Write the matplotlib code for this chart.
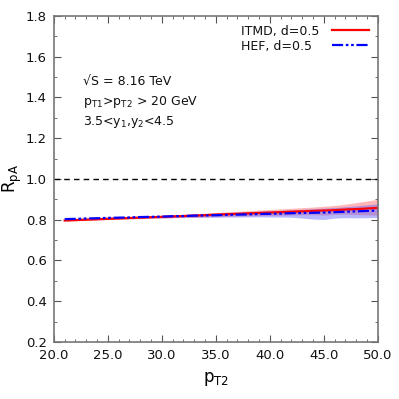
import numpy as np
import matplotlib
matplotlib.use("Agg")
import matplotlib.pyplot as plt
from matplotlib.ticker import MultipleLocator, FormatStrFormatter

# pT2 grid (GeV)
pt2 = [21, 22, 23, 24, 25, 26, 27, 28, 29, 30,
       31, 32, 33, 34, 35, 36, 37, 38, 39, 40,
       41, 42, 43, 44, 45, 46, 47, 48, 49, 50]

# ITMD, d=0.5
itmd = [0.796, 0.798, 0.800, 0.802, 0.804, 0.806, 0.808, 0.810, 0.812, 0.814,
        0.816, 0.818, 0.820, 0.822, 0.825, 0.827, 0.829, 0.831, 0.833, 0.835,
        0.837, 0.839, 0.841, 0.843, 0.845, 0.847, 0.850, 0.852, 0.855, 0.858]
itmd_lo = [0.793, 0.795, 0.797, 0.799, 0.801, 0.802, 0.804, 0.805, 0.807, 0.808,
           0.810, 0.811, 0.812, 0.814, 0.815, 0.816, 0.818, 0.819, 0.820, 0.821,
           0.822, 0.823, 0.824, 0.825, 0.822, 0.826, 0.827, 0.825, 0.824, 0.822]
itmd_hi = [0.800, 0.802, 0.804, 0.806, 0.808, 0.811, 0.813, 0.816, 0.818, 0.821,
           0.823, 0.826, 0.829, 0.832, 0.835, 0.838, 0.841, 0.844, 0.847, 0.850,
           0.853, 0.856, 0.859, 0.862, 0.866, 0.870, 0.876, 0.884, 0.892, 0.900]

# HEF, d=0.5
hef = [0.803, 0.804, 0.806, 0.807, 0.809, 0.810, 0.811, 0.813, 0.814, 0.815,
       0.817, 0.818, 0.820, 0.821, 0.822, 0.824, 0.825, 0.826, 0.828, 0.829,
       0.830, 0.832, 0.833, 0.834, 0.835, 0.837, 0.839, 0.841, 0.843, 0.845]
hef_lo = [0.800, 0.801, 0.803, 0.804, 0.805, 0.806, 0.807, 0.808, 0.809, 0.809,
          0.810, 0.811, 0.811, 0.812, 0.812, 0.813, 0.813, 0.814, 0.814, 0.813,
          0.813, 0.812, 0.808, 0.803, 0.801, 0.808, 0.810, 0.809, 0.810, 0.811]
hef_hi = [0.806, 0.807, 0.809, 0.811, 0.813, 0.814, 0.816, 0.818, 0.820, 0.821,
          0.823, 0.825, 0.828, 0.830, 0.832, 0.835, 0.837, 0.839, 0.842, 0.844,
          0.846, 0.849, 0.851, 0.854, 0.857, 0.860, 0.864, 0.868, 0.873, 0.878]

notes = ["\u221aS = 8.16 TeV",
         r"p$_{\rm T1}$>p$_{\rm T2}$ > 20 GeV",
         r"3.5<y$_1$,y$_2$<4.5"]

plt.rcParams["mathtext.default"] = "regular"

fig = plt.figure(figsize=(3.99, 3.99), dpi=100)
ax = fig.add_axes([0.135, 0.143, 0.812, 0.817])

ax.fill_between(pt2, itmd_lo, itmd_hi, color="#ff7070", alpha=0.5, lw=0)
ax.fill_between(pt2, hef_lo, hef_hi, color="#6060ff", alpha=0.45, lw=0)
ax.plot(pt2, itmd, color="red", lw=1.6, label="ITMD, d=0.5")
ax.plot(pt2, hef, color="blue", lw=1.6, dashes=(5, 1.2, 1.2, 1.2, 1.2, 1.2),
        label="HEF, d=0.5")
ax.axhline(1.0, color="black", lw=1.0, dashes=(4, 3))

ax.set_xlim(20, 50)
ax.set_ylim(0.2, 1.8)
ax.xaxis.set_major_locator(MultipleLocator(5))
ax.xaxis.set_minor_locator(MultipleLocator(1))
ax.yaxis.set_major_locator(MultipleLocator(0.2))
ax.yaxis.set_minor_locator(MultipleLocator(0.1))
ax.xaxis.set_major_formatter(FormatStrFormatter("%.1f"))
ax.yaxis.set_major_formatter(FormatStrFormatter("%.1f"))
ax.tick_params(which="both", direction="in", top=True, right=True,
               color="#555555", labelsize=9.5, labelcolor="#111111")
ax.tick_params(which="major", length=5, pad=5)
ax.tick_params(which="minor", length=2.5)
for s in ax.spines.values():
    s.set_color("#777777")
    s.set_linewidth(1.2)

ax.set_xlabel(r"p$_{\rm T2}$", fontsize=12, labelpad=6)
ax.set_ylabel(r"R$_{\rm pA}$", fontsize=12, labelpad=1)

for i, t in enumerate(notes):
    ax.text(0.09, 0.80 - i * 0.063, t, transform=ax.transAxes, fontsize=9,
            va="center", color="#111111")

leg = ax.legend(loc="upper right", frameon=False, markerfirst=False,
                fontsize=9, handlelength=3.0, labelspacing=0.15,
                borderaxespad=0.5, borderpad=0.2, handletextpad=1.0)
for t in leg.get_texts():
    t.set_color("#111111")

# gnuplot-style key: labels left-aligned, samples right-aligned
renderer = fig.canvas.get_renderer()
widths = [t.get_window_extent(renderer).width * 72 / fig.dpi for t in leg.get_texts()]
items = leg._legend_handle_box.get_children()[0].get_children()
for item, w in zip(items, widths):
    item.sep += max(widths) - w

fig.savefig("out.png", dpi=100)
